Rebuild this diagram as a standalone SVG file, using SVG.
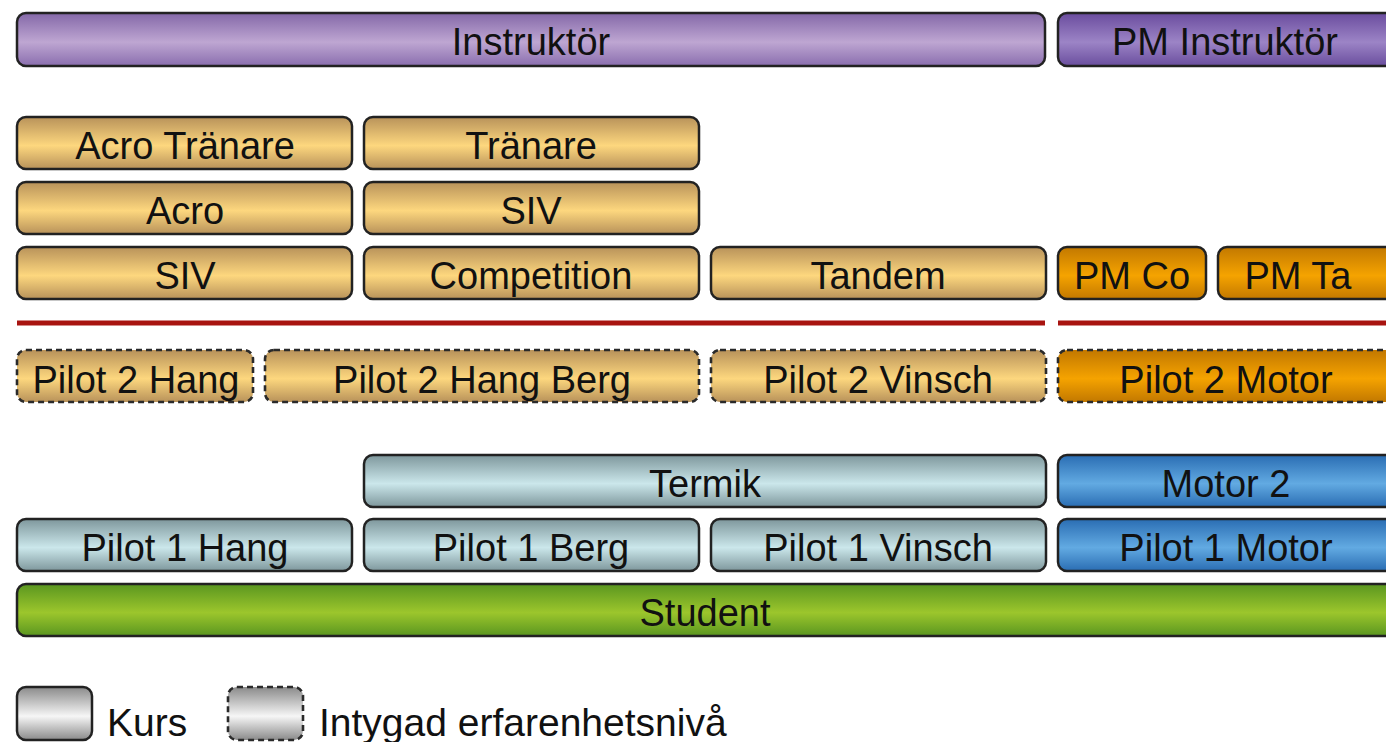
<svg xmlns="http://www.w3.org/2000/svg" width="1386" height="742" viewBox="0 0 1386 742">
<defs>
<linearGradient id="gPurple" x1="0" y1="0" x2="0" y2="1"><stop offset="0" stop-color="#8468a8"/><stop offset="0.55" stop-color="#bea6d2"/><stop offset="1" stop-color="#8a6eae"/></linearGradient>
<linearGradient id="gPurpleD" x1="0" y1="0" x2="0" y2="1"><stop offset="0" stop-color="#6a4c9e"/><stop offset="0.55" stop-color="#9c84c6"/><stop offset="1" stop-color="#6a4e9e"/></linearGradient>
<linearGradient id="gTan" x1="0" y1="0" x2="0" y2="1"><stop offset="0" stop-color="#b8925a"/><stop offset="0.55" stop-color="#fdd77e"/><stop offset="1" stop-color="#b8925a"/></linearGradient>
<linearGradient id="gOrange" x1="0" y1="0" x2="0" y2="1"><stop offset="0" stop-color="#c27800"/><stop offset="0.55" stop-color="#f5a300"/><stop offset="1" stop-color="#c27800"/></linearGradient>
<linearGradient id="gLBlue" x1="0" y1="0" x2="0" y2="1"><stop offset="0" stop-color="#7e979c"/><stop offset="0.55" stop-color="#cbe7eb"/><stop offset="1" stop-color="#7e979c"/></linearGradient>
<linearGradient id="gBlue" x1="0" y1="0" x2="0" y2="1"><stop offset="0" stop-color="#2a6db3"/><stop offset="0.55" stop-color="#62aae2"/><stop offset="1" stop-color="#2a6db3"/></linearGradient>
<linearGradient id="gGreen" x1="0" y1="0" x2="0" y2="1"><stop offset="0" stop-color="#5a9620"/><stop offset="0.55" stop-color="#9cc62c"/><stop offset="1" stop-color="#5a9620"/></linearGradient>
<linearGradient id="gGrey" x1="0" y1="0" x2="0" y2="1"><stop offset="0" stop-color="#8a8a8a"/><stop offset="0.55" stop-color="#f6f6f6"/><stop offset="1" stop-color="#8a8a8a"/></linearGradient>
</defs>
<style>
rect.b{stroke:#222;stroke-width:2.5}
rect.d{stroke:#2a2a2a;stroke-width:2.6;stroke-dasharray:6 4}
text{font-family:"Liberation Sans",Arial,sans-serif;font-size:38px;fill:#111;text-anchor:middle}
text.l{text-anchor:start;font-size:39px}
.red{stroke:#a81410;stroke-width:5}
</style>
<rect width="1386" height="742" fill="#fff"/>
<g id="instruktor"><rect class="b" x="17" y="13" width="1028" height="53" rx="9" fill="url(#gPurple)"/><text x="531" y="55">Instruktör</text></g>
<g id="pm-instruktor"><rect class="b" x="1058" y="13" width="340" height="53" rx="9" fill="url(#gPurpleD)"/><text x="1225" y="55">PM Instruktör</text></g>
<g id="acro-tranare"><rect class="b" x="17" y="117" width="335" height="52" rx="9" fill="url(#gTan)"/><text x="185" y="159">Acro Tränare</text></g>
<g id="tranare"><rect class="b" x="364" y="117" width="335" height="52" rx="9" fill="url(#gTan)"/><text x="531" y="159">Tränare</text></g>
<g id="acro"><rect class="b" x="17" y="182" width="335" height="52" rx="9" fill="url(#gTan)"/><text x="185" y="224">Acro</text></g>
<g id="siv2"><rect class="b" x="364" y="182" width="335" height="52" rx="9" fill="url(#gTan)"/><text x="531" y="224">SIV</text></g>
<g id="siv"><rect class="b" x="17" y="247" width="335" height="52" rx="9" fill="url(#gTan)"/><text x="185" y="289">SIV</text></g>
<g id="competition"><rect class="b" x="364" y="247" width="335" height="52" rx="9" fill="url(#gTan)"/><text x="531" y="289">Competition</text></g>
<g id="tandem"><rect class="b" x="711" y="247" width="335" height="52" rx="9" fill="url(#gTan)"/><text x="878" y="289">Tandem</text></g>
<g id="pm-co"><rect class="b" x="1058" y="247" width="148" height="52" rx="9" fill="url(#gOrange)"/><text x="1132" y="289">PM Co</text></g>
<g id="pm-ta"><rect class="b" x="1218" y="247" width="180" height="52" rx="9" fill="url(#gOrange)"/><text x="1298" y="289">PM Ta</text></g>
<g id="connectors"><line class="red" x1="17" y1="323" x2="1045" y2="323"/><line class="red" x1="1058" y1="323" x2="1386" y2="323"/></g>
<g id="pilot2-hang"><rect class="d" x="17" y="350" width="236" height="52" rx="9" fill="url(#gTan)"/><text x="136" y="393">Pilot 2 Hang</text></g>
<g id="pilot2-hang-berg"><rect class="d" x="265" y="350" width="434" height="52" rx="9" fill="url(#gTan)"/><text x="482" y="393">Pilot 2 Hang Berg</text></g>
<g id="pilot2-vinsch"><rect class="d" x="711" y="350" width="335" height="52" rx="9" fill="url(#gTan)"/><text x="878" y="393">Pilot 2 Vinsch</text></g>
<g id="pilot2-motor"><rect class="d" x="1058" y="350" width="340" height="52" rx="9" fill="url(#gOrange)"/><text x="1226" y="393">Pilot 2 Motor</text></g>
<g id="termik"><rect class="b" x="364" y="455" width="682" height="52" rx="9" fill="url(#gLBlue)"/><text x="705" y="497">Termik</text></g>
<g id="motor2"><rect class="b" x="1058" y="455" width="340" height="52" rx="9" fill="url(#gBlue)"/><text x="1226" y="497">Motor 2</text></g>
<g id="pilot1-hang"><rect class="b" x="17" y="519" width="335" height="52" rx="9" fill="url(#gLBlue)"/><text x="185" y="561">Pilot 1 Hang</text></g>
<g id="pilot1-berg"><rect class="b" x="364" y="519" width="335" height="52" rx="9" fill="url(#gLBlue)"/><text x="531" y="561">Pilot 1 Berg</text></g>
<g id="pilot1-vinsch"><rect class="b" x="711" y="519" width="335" height="52" rx="9" fill="url(#gLBlue)"/><text x="878" y="561">Pilot 1 Vinsch</text></g>
<g id="pilot1-motor"><rect class="b" x="1058" y="519" width="340" height="52" rx="9" fill="url(#gBlue)"/><text x="1226" y="561">Pilot 1 Motor</text></g>
<g id="student"><rect class="b" x="17" y="584" width="1381" height="52" rx="9" fill="url(#gGreen)"/><text x="705" y="626">Student</text></g>
<g id="legend-kurs"><rect class="b" x="17" y="687" width="75" height="53" rx="9" fill="url(#gGrey)"/><text class="l" x="107" y="736">Kurs</text></g>
<g id="legend-intygad"><rect class="d" x="228" y="687" width="75" height="53" rx="9" fill="url(#gGrey)"/><text class="l" x="319" y="736">Intygad erfarenhetsnivå</text></g>
</svg>
